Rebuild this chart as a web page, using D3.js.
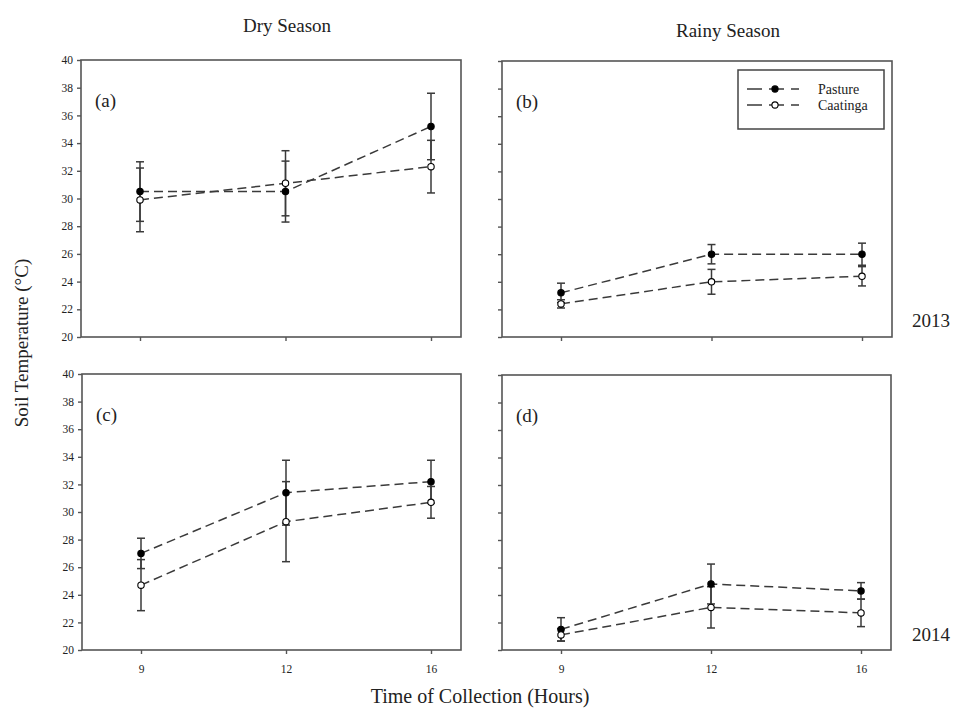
<!DOCTYPE html>
<html>
<head>
<meta charset="utf-8">
<script src="https://cdn.jsdelivr.net/npm/d3@7"></script>
<style>
  html, body { margin: 0; padding: 0; background: #fff; }
  svg { display: block; }
  text { font-family: "Liberation Serif", "DejaVu Serif", serif; fill: #222; }
</style>
</head>
<body>
<svg id="chart" width="960" height="711"></svg>
<script>
// ---- Data ----
const hours = ["9", "12", "16"];
const yTicks = [20, 22, 24, 26, 28, 30, 32, 34, 36, 38, 40];
const seriesNames = ["Pasture", "Caatinga"];

const pastureDry2013 = [30.5, 30.5, 35.2];
const pastureDry2013Err = [2.15, 2.2, 2.4];
const caatingaDry2013 = [29.9, 31.1, 32.3];
const caatingaDry2013Err = [2.3, 2.35, 1.9];

const pastureRainy2013 = [23.2, 26.0, 26.0];
const pastureRainy2013Err = [0.7, 0.7, 0.8];
const caatingaRainy2013 = [22.4, 24.0, 24.4];
const caatingaRainy2013Err = [0.3, 0.9, 0.7];

const pastureDry2014 = [27.0, 31.4, 32.2];
const pastureDry2014Err = [1.1, 2.35, 1.55];
const caatingaDry2014 = [24.7, 29.3, 30.7];
const caatingaDry2014Err = [1.85, 2.9, 1.15];

const pastureRainy2014 = [21.5, 24.8, 24.3];
const pastureRainy2014Err = [0.85, 1.45, 0.6];
const caatingaRainy2014 = [21.1, 23.1, 22.7];
const caatingaRainy2014Err = [0.45, 1.5, 1.0];

const panelLabels = ["(a)", "(b)", "(c)", "(d)"];

// ---- Layout ----
const svg = d3.select("#chart");
const panels = [
  { label: panelLabels[0], x0: 81, x1: 461, y0: 60, y1: 337, yLabels: true, xLabels: false, legend: false,
    p: pastureDry2013, pe: pastureDry2013Err, c: caatingaDry2013, ce: caatingaDry2013Err },
  { label: panelLabels[1], x0: 502, x1: 892, y0: 61, y1: 337, yLabels: false, xLabels: false, legend: true,
    p: pastureRainy2013, pe: pastureRainy2013Err, c: caatingaRainy2013, ce: caatingaRainy2013Err },
  { label: panelLabels[2], x0: 82, x1: 461, y0: 374, y1: 650, yLabels: true, xLabels: true, legend: false,
    p: pastureDry2014, pe: pastureDry2014Err, c: caatingaDry2014, ce: caatingaDry2014Err },
  { label: panelLabels[3], x0: 502, x1: 891, y0: 375, y1: 650, yLabels: false, xLabels: true, legend: false,
    p: pastureRainy2014, pe: pastureRainy2014Err, c: caatingaRainy2014, ce: caatingaRainy2014Err }
];

const lineColor = "#3a3a3a";
const axisColor = "#555";

panels.forEach(pn => {
  const g = svg.append("g");
  const x = d3.scalePoint().domain(hours).range([pn.x0 + 59, pn.x1 - 30]);
  const y = d3.scaleLinear().domain([20, 40]).range([pn.y1, pn.y0]);

  // frame
  g.append("rect")
    .attr("x", pn.x0).attr("y", pn.y0)
    .attr("width", pn.x1 - pn.x0).attr("height", pn.y1 - pn.y0)
    .attr("fill", "none").attr("stroke", axisColor).attr("stroke-width", 1.6);

  // y axis
  const yAxis = d3.axisLeft(y).tickValues(yTicks).tickSize(4).tickPadding(4)
    .tickFormat(pn.yLabels ? d3.format("d") : () => "");
  const ya = g.append("g").attr("transform", `translate(${pn.x0},0)`).call(yAxis);
  ya.select(".domain").remove();
  ya.selectAll(".tick line").attr("stroke", axisColor).attr("stroke-width", 1.4);
  ya.selectAll(".tick text").style("font-family", "'Liberation Serif', serif")
    .style("font-size", "11.5px").attr("fill", "#444");

  // x axis
  const xAxis = d3.axisBottom(x).tickSize(4).tickPadding(11)
    .tickFormat(pn.xLabels ? (d => d) : () => "");
  const xa = g.append("g").attr("transform", `translate(0,${pn.y1})`).call(xAxis);
  xa.select(".domain").remove();
  xa.selectAll(".tick line").attr("stroke", axisColor).attr("stroke-width", 1.4);
  xa.selectAll(".tick text").style("font-family", "'Liberation Serif', serif")
    .style("font-size", "11.5px").attr("fill", "#444");

  const series = [
    { vals: pn.p, errs: pn.pe, fill: "#000" },
    { vals: pn.c, errs: pn.ce, fill: "#fff" }
  ];

  const line = d3.line().x((d, i) => x(hours[i])).y(d => y(d));

  series.forEach(s => {
    g.append("path").datum(s.vals)
      .attr("d", line).attr("fill", "none")
      .attr("stroke", lineColor).attr("stroke-width", 1.5)
      .attr("stroke-dasharray", "9,5");
  });

  series.forEach(s => {
    s.vals.forEach((v, i) => {
      const cx = x(hours[i]);
      const top = y(v + s.errs[i]);
      const bot = y(v - s.errs[i]);
      g.append("line").attr("x1", cx).attr("x2", cx).attr("y1", top).attr("y2", bot)
        .attr("stroke", lineColor).attr("stroke-width", 1.5);
      [top, bot].forEach(yy => {
        g.append("line").attr("x1", cx - 4).attr("x2", cx + 4).attr("y1", yy).attr("y2", yy)
          .attr("stroke", lineColor).attr("stroke-width", 1.5);
      });
    });
  });

  series.forEach(s => {
    g.selectAll(null).data(s.vals).enter().append("circle")
      .attr("cx", (d, i) => x(hours[i])).attr("cy", d => y(d))
      .attr("r", 3.2).attr("fill", s.fill).attr("stroke", "#000").attr("stroke-width", 1.1);
  });

  // panel label
  g.append("text").attr("x", pn.x0 + 14).attr("y", pn.y0 + 47)
    .style("font-size", "19px").text(pn.label);

  if (pn.legend) {
    const lx = 738, ly = 70;
    g.append("rect").attr("x", lx).attr("y", ly).attr("width", 146).attr("height", 59)
      .attr("fill", "#fff").attr("stroke", "#444").attr("stroke-width", 1.5);
    seriesNames.forEach((name, i) => {
      const yy = ly + 19 + i * 16;
      g.append("line").attr("x1", lx + 9).attr("x2", lx + 61).attr("y1", yy).attr("y2", yy)
        .attr("stroke", lineColor).attr("stroke-width", 1.3).attr("stroke-dasharray", "15,7");
      g.append("circle").attr("cx", lx + 37).attr("cy", yy).attr("r", 3.1)
        .attr("fill", i === 0 ? "#000" : "#fff").attr("stroke", "#000").attr("stroke-width", 1.1);
      g.append("text").attr("x", lx + 80).attr("y", yy + 5)
        .style("font-size", "14px").text(name);
    });
  }
});

// titles
svg.append("text").attr("x", 287).attr("y", 32).attr("text-anchor", "middle")
  .style("font-size", "19px").text("Dry Season");
svg.append("text").attr("x", 728).attr("y", 37).attr("text-anchor", "middle")
  .style("font-size", "19px").text("Rainy Season");
svg.append("text").attr("x", 912).attr("y", 327)
  .style("font-size", "19px").text("2013");
svg.append("text").attr("x", 912).attr("y", 641)
  .style("font-size", "19px").text("2014");
svg.append("text").attr("transform", "translate(28,343) rotate(-90)").attr("text-anchor", "middle")
  .style("font-size", "19px").text("Soil Temperature (°C)");
svg.append("text").attr("x", 480).attr("y", 703).attr("text-anchor", "middle")
  .style("font-size", "20px").text("Time of Collection (Hours)");
</script>
</body>
</html>
